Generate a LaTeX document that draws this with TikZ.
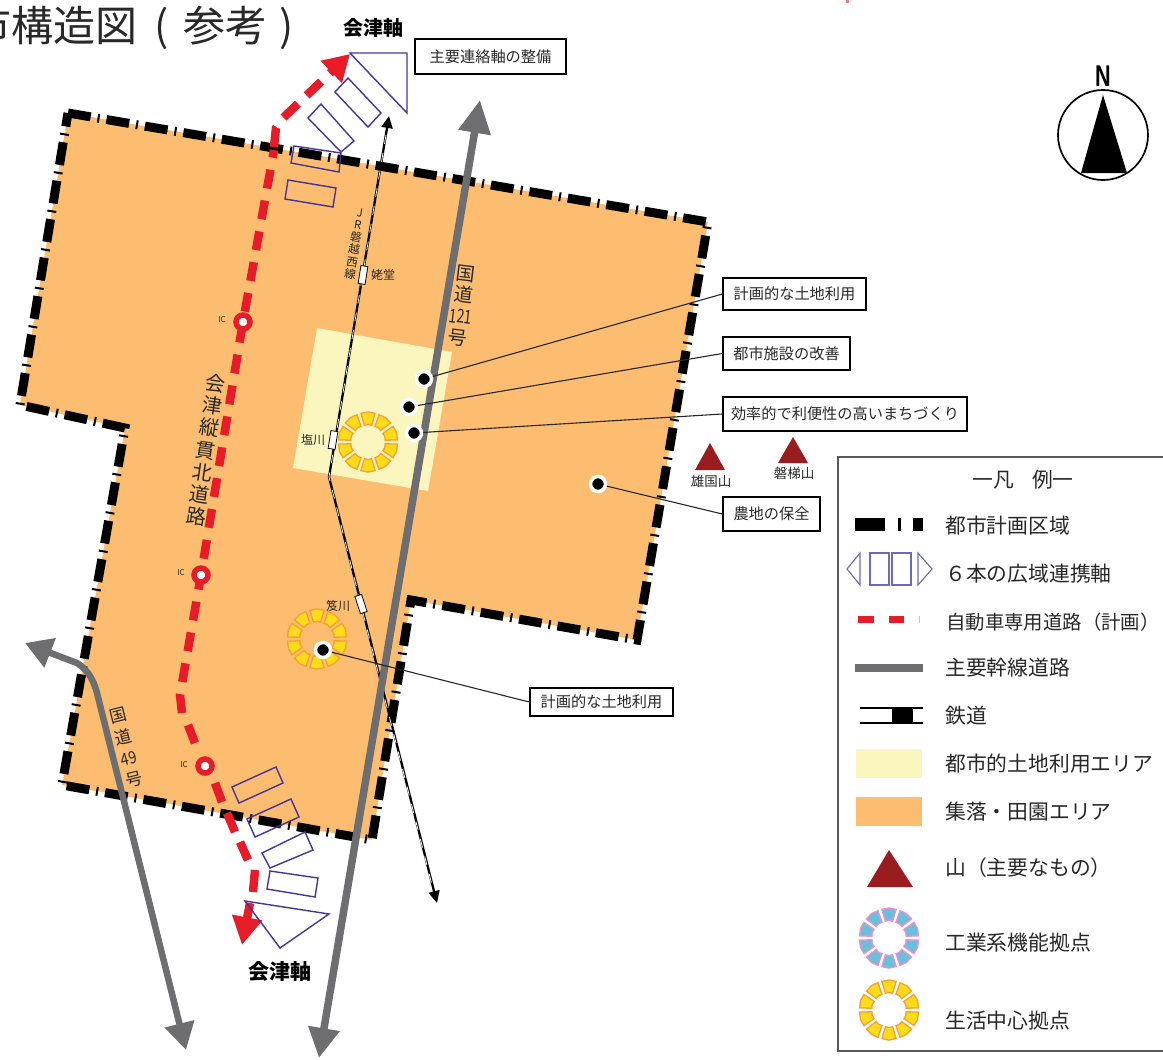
\documentclass[tikz,border=0pt]{standalone}
\usepackage{fontspec}
\setmainfont{Noto Sans CJK JP}
\newfontfamily\latinsans{Liberation Sans}
\usetikzlibrary{arrows.meta}
\definecolor{areaorange}{RGB}{253,189,112}
\definecolor{areayellow}{RGB}{251,246,190}
\definecolor{roadgrey}{RGB}{110,110,112}
\definecolor{roadred}{RGB}{232,28,40}
\definecolor{axisblue}{RGB}{70,52,155}
\definecolor{axislight}{RGB}{110,105,185}
\definecolor{mountred}{RGB}{155,28,30}
\definecolor{hubyellow}{RGB}{255,220,25}
\definecolor{hubedge}{RGB}{245,160,50}
\definecolor{hubcyan}{RGB}{105,192,220}
\definecolor{hubpink}{RGB}{235,145,210}
\definecolor{inktext}{RGB}{40,40,40}
\tikzset{
  boundary/.style={line width=9pt,black,dash pattern=on 23pt off 7pt on 2pt off 7pt},
  axisbox/.style={draw=axisblue,line width=1.4pt},
  legaxis/.style={draw=axislight,line width=1.1pt},
  railblack/.style={black,line width=2.3pt},
  railwhite/.style={white,line width=.8pt,dash pattern=on 9pt off 9pt},
  callout/.style={draw=black,fill=white,line width=1.4pt,inner sep=0pt,font=\fontsize{15.2}{15.2}\selectfont,text=inktext},
  spot/.style={circle,fill=black,draw=white,line width=3.5pt,minimum size=15pt,inner sep=0pt},
  leader/.style={draw=black!85,line width=1.1pt},
  icring/.style={circle,draw=roadred,fill=white,line width=5.5pt,minimum size=14pt,inner sep=0pt},
  iclabel/.style={font=\fontsize{8}{8}\selectfont,text=inktext},
  station/.style={draw=black,fill=white,line width=.8pt,minimum width=7pt,minimum height=18pt,inner sep=0pt},
  smalltxt/.style={font=\fontsize{12}{12}\selectfont,text=inktext},
  legtxt/.style={anchor=west,inner sep=0pt,font=\fontsize{20.8}{20.8}\selectfont,text=inktext},
  mountlabel/.style={font=\fontsize{13.5}{13.5}\selectfont,text=inktext},
  mount/.style={fill=mountred},
  redsolid/.style={roadred,line width=8.5pt}
}
\newcommand{\hubring}[5]{%
  \begin{scope}[shift={(#1,#2)}]
    \foreach \ang in {90,126,...,414}{
      \filldraw[fill=#3,draw=#4,line width=1.3pt]
        (\ang-12:#5*0.58) -- (\ang:#5*0.6) -- (\ang+12:#5*0.58) -- (\ang+14:#5) -- (\ang:#5*1.02) -- (\ang-14:#5) -- cycle;
    }
  \end{scope}}
\begin{document}
\begin{tikzpicture}[x=1pt,y=-1pt]
\useasboundingbox (0,0) rectangle (1163,1060);
\begin{scope}
\clip (0,0) rectangle (1163,1060);
% areas
\fill[areaorange] (68,113) -- (708,222) -- (637,640) -- (411,600) -- (372,840) -- (62,785) -- (125,428) -- (20,405) -- cycle;
\draw[boundary] (68,113) -- (708,222) -- (637,640) -- (411,600) -- (372,840) -- (62,785) -- (125,428) -- (20,405) -- cycle;
\fill[areayellow] (317,328) -- (452,352) -- (428,491) -- (293,468) -- cycle;
% railway
\coordinate (railN) at (389,116);
\coordinate (railS) at (437,903);
\draw[railblack,-{Triangle[length=12pt,width=11pt]}] (329,477) -- (railN);
\draw[railblack,-{Triangle[length=12pt,width=11pt]}] (329,477) -- (railS);
\draw[railwhite] (386,135) -- (329,477) -- (361,605) -- (432,885);
% roads
\coordinate (r121N) at (480,100);
\coordinate (r121S) at (319,1058);
\draw[roadgrey,line width=7.5pt,{Triangle[length=33pt,width=31pt]}-{Triangle[length=30pt,width=30pt]}] (r121N) -- (r121S);
\coordinate (r49W) at (25,643);
\coordinate (r49S) at (186,1050);
\draw[roadgrey,line width=6.5pt,{Triangle[length=27pt,width=30pt]}-{Triangle[length=27pt,width=29pt]}] (r49W) -- (48,652) -- (77,663) .. controls (90,671) and (95,684) .. (98,697) -- (r49S);
% expressway
\coordinate (redN) at (350,54);
\coordinate (redS) at (242,945);
\draw[redsolid,dash pattern=on 20pt off 12pt,-{Triangle[length=26pt,width=29pt]}] (274,147) -- (276,128) -- (283,118) -- (redN);
\draw[redsolid,dash pattern=on 19pt off 12.3pt] (182,713) -- (180,695) -- (201,575) -- (243,322) -- (274,150);
\draw[redsolid] (188,725) -- (195,743);
\draw[redsolid] (215,783) -- (222,802);
\draw[redsolid] (227,813) -- (235,832);
\draw[redsolid] (240,842) -- (248,860);
\draw[redsolid] (255,870) -- (253,892);
\draw[redsolid,-{Triangle[length=28pt,width=29pt]}] (250,903) -- (redS);
% wide-area axes
\draw[axisbox] (350,53) -- (407,53) -- (407,113) -- cycle;
\draw[axisbox] (335,92) -- (348,78) -- (381,113) -- (368,127) -- cycle;
\draw[axisbox] (308,118) -- (321,104) -- (354,141) -- (341,152) -- cycle;
\draw[axisbox] (294,146) -- (341,153) -- (339,172) -- (291,163) -- cycle;
\draw[axisbox] (288,180) -- (336,188) -- (333,207) -- (285,199) -- cycle;
\draw[axisbox] (232,787) -- (276,767) -- (283,783) -- (239,803) -- cycle;
\draw[axisbox] (247,819) -- (291,799) -- (299,817) -- (255,837) -- cycle;
\draw[axisbox] (262,853) -- (305,832) -- (313,850) -- (270,868) -- cycle;
\draw[axisbox] (270,871) -- (318,878) -- (315,897) -- (267,889) -- cycle;
\draw[axisbox] (245,901) -- (329,914) -- (280,948) -- cycle;
% hubs
\hubring{368}{442}{hubyellow}{hubedge}{29.5}
\hubring{317}{639}{hubyellow}{hubedge}{29.5}
% stations
\node[station,rotate=-9] (st1) at (363,275) {};
\node[station,rotate=-9] (st2) at (333,440) {};
\node[station,rotate=18] (st3) at (361,604) {};
\node[smalltxt] (st1l) at (383,275) {姥堂};
\node[smalltxt] (st2l) at (313,440) {塩川};
\node[smalltxt] (st3l) at (338,606) {笈川};
% IC
\node[icring] (ic1) at (243,322) {};
\node[icring] (ic2) at (201,575) {};
\node[icring] (ic3) at (205,766) {};
\node[iclabel] (ic1l) at (222,320) {IC};
\node[iclabel] (ic2l) at (181,573) {IC};
\node[iclabel] (ic3l) at (184,765) {IC};
% road labels
\node[rotate=-8.5,align=center,inner sep=0pt,font=\fontsize{20}{22.5}\selectfont,text=inktext] (lab1) at (206,450) {会\\津\\縦\\貫\\北\\道\\路};
\node[rotate=-7,align=center,inner sep=0pt,font=\fontsize{19}{21.5}\selectfont,text=inktext] (lab2) at (462,306) {国\\道\\\scalebox{.72}[1]{121}\\号};
\node[rotate=14,align=center,inner sep=0pt,font=\fontsize{17}{22}\selectfont,text=inktext] (lab3) at (126,748) {国\\道\\\scalebox{.85}[1]{49}\\号};
\node[rotate=-9,align=center,inner sep=0pt,font=\fontsize{11.5}{12.4}\selectfont,text=inktext] (lab4) at (355,244) {J\\R\\磐\\越\\西\\線};
\node[font=\bfseries\fontsize{20}{20}\selectfont] (axisN) at (373,28) {会津軸};
\node[font=\bfseries\fontsize{21}{21}\selectfont] (axisS) at (280,972) {会津軸};
% callouts
\node[callout,minimum width=151pt,minimum height=35pt] (b0) at (490.5,56.5) {主要連絡軸の整備};
\node[callout,minimum width=143pt,minimum height=32pt] (b1) at (794.5,294) {計画的な土地利用};
\node[callout,minimum width=127pt,minimum height=33pt] (b2) at (786.5,353.5) {都市施設の改善};
\node[callout,minimum width=244pt,minimum height=34pt] (b3) at (845,414) {効率的で利便性の高いまちづくり};
\node[callout,minimum width=97pt,minimum height=34pt] (b4) at (771.5,514) {農地の保全};
\node[callout,minimum width=143pt,minimum height=28pt] (b5) at (601.5,702) {計画的な土地利用};
\node[spot] (d1) at (424,379) {};
\node[spot] (d2) at (409,407) {};
\node[spot] (d3) at (414,433) {};
\node[spot] (d4) at (598,484) {};
\node[spot] (d5) at (323,650) {};
\draw[leader] (d1) -- (b1.west);
\draw[leader] (d2) -- (b2.west);
\draw[leader] (d3) -- (b3.west);
\draw[leader] (d4) -- (b4.west);
\draw[leader] (d5) -- (b5.west);
% mountains
\fill[mount] (710,443) -- (725,470) -- (695,470) -- cycle;
\fill[mount] (793,437) -- (808,463) -- (778,463) -- cycle;
\node[mountlabel] (m1) at (711,481) {雄国山};
\node[mountlabel] (m2) at (794,473) {磐梯山};
% title
\node[anchor=west,inner sep=0pt,font=\fontsize{42}{42}\selectfont,text=inktext] (title) at (-31,28) {市構造図\hspace{17pt}(\hspace{15pt}参考\hspace{12pt})};
\fill[roadred!60] (846,0) rectangle (849,2.5);
% compass
\node[inner sep=0pt,xscale=.72,font=\latinsans\bfseries\fontsize{30}{30}\selectfont] (north) at (1103,76) {N};
\draw[black,line width=1.7pt] (1103,135) circle[radius=45];
\fill[black] (1103,95) -- (1127,173) -- (1081,173) -- cycle;
% legend
\draw[draw=black!65,fill=white,line width=1.3pt] (838,457) rectangle (1175,1051);
\node[legtxt,anchor=center] (legT) at (1023,480) {一凡\hspace{18pt}例一};
\fill[black] (855,518) rectangle (885,531);
\fill[black] (898,518) rectangle (901,531);
\fill[black] (913,518) rectangle (923,531);
\node[legtxt] (leg1) at (945,526) {都市計画区域};
\draw[legaxis] (860,553) -- (847,569) -- (860,585) -- cycle;
\draw[legaxis] (870,553) rectangle (889,585);
\draw[legaxis] (892,553) rectangle (911,585);
\draw[legaxis] (918,553) -- (932,569) -- (918,585) -- cycle;
\node[legtxt] (leg2) at (945,574) {６本の広域連携軸};
\fill[roadred] (858,616) rectangle (874,623);
\fill[roadred] (889,616) rectangle (904,623);
\fill[roadred!35] (919,616) rectangle (920,623);
\node[legtxt,font=\fontsize{19.4}{19.4}\selectfont] (leg3) at (946,622) {自動車専用道路（計画）};
\fill[roadgrey] (855,664) rectangle (923,672);
\node[legtxt] (leg4) at (945,668) {主要幹線道路};
\draw[black,line width=2.4pt] (860,708) -- (923,708) (860,723) -- (923,723);
\fill[black] (892,707) rectangle (913,724);
\node[legtxt] (leg5) at (945,716) {鉄道};
\fill[areayellow] (856,749) rectangle (922,778);
\node[legtxt] (leg6) at (945,764) {都市的土地利用エリア};
\fill[areaorange] (856,797) rectangle (922,826);
\node[legtxt] (leg7) at (945,812) {集落・田園エリア};
\fill[mountred] (889,850) -- (913,887) -- (867,887) -- cycle;
\node[legtxt] (leg8) at (945,868) {山（主要なもの）};
\hubring{889}{938}{hubcyan}{hubpink}{29.5}
\node[legtxt] (leg9) at (945,943) {工業系機能拠点};
\hubring{889}{1010}{hubyellow}{hubedge}{29.5}
\node[legtxt] (leg10) at (945,1021) {生活中心拠点};
\end{scope}
\end{tikzpicture}
\end{document}
